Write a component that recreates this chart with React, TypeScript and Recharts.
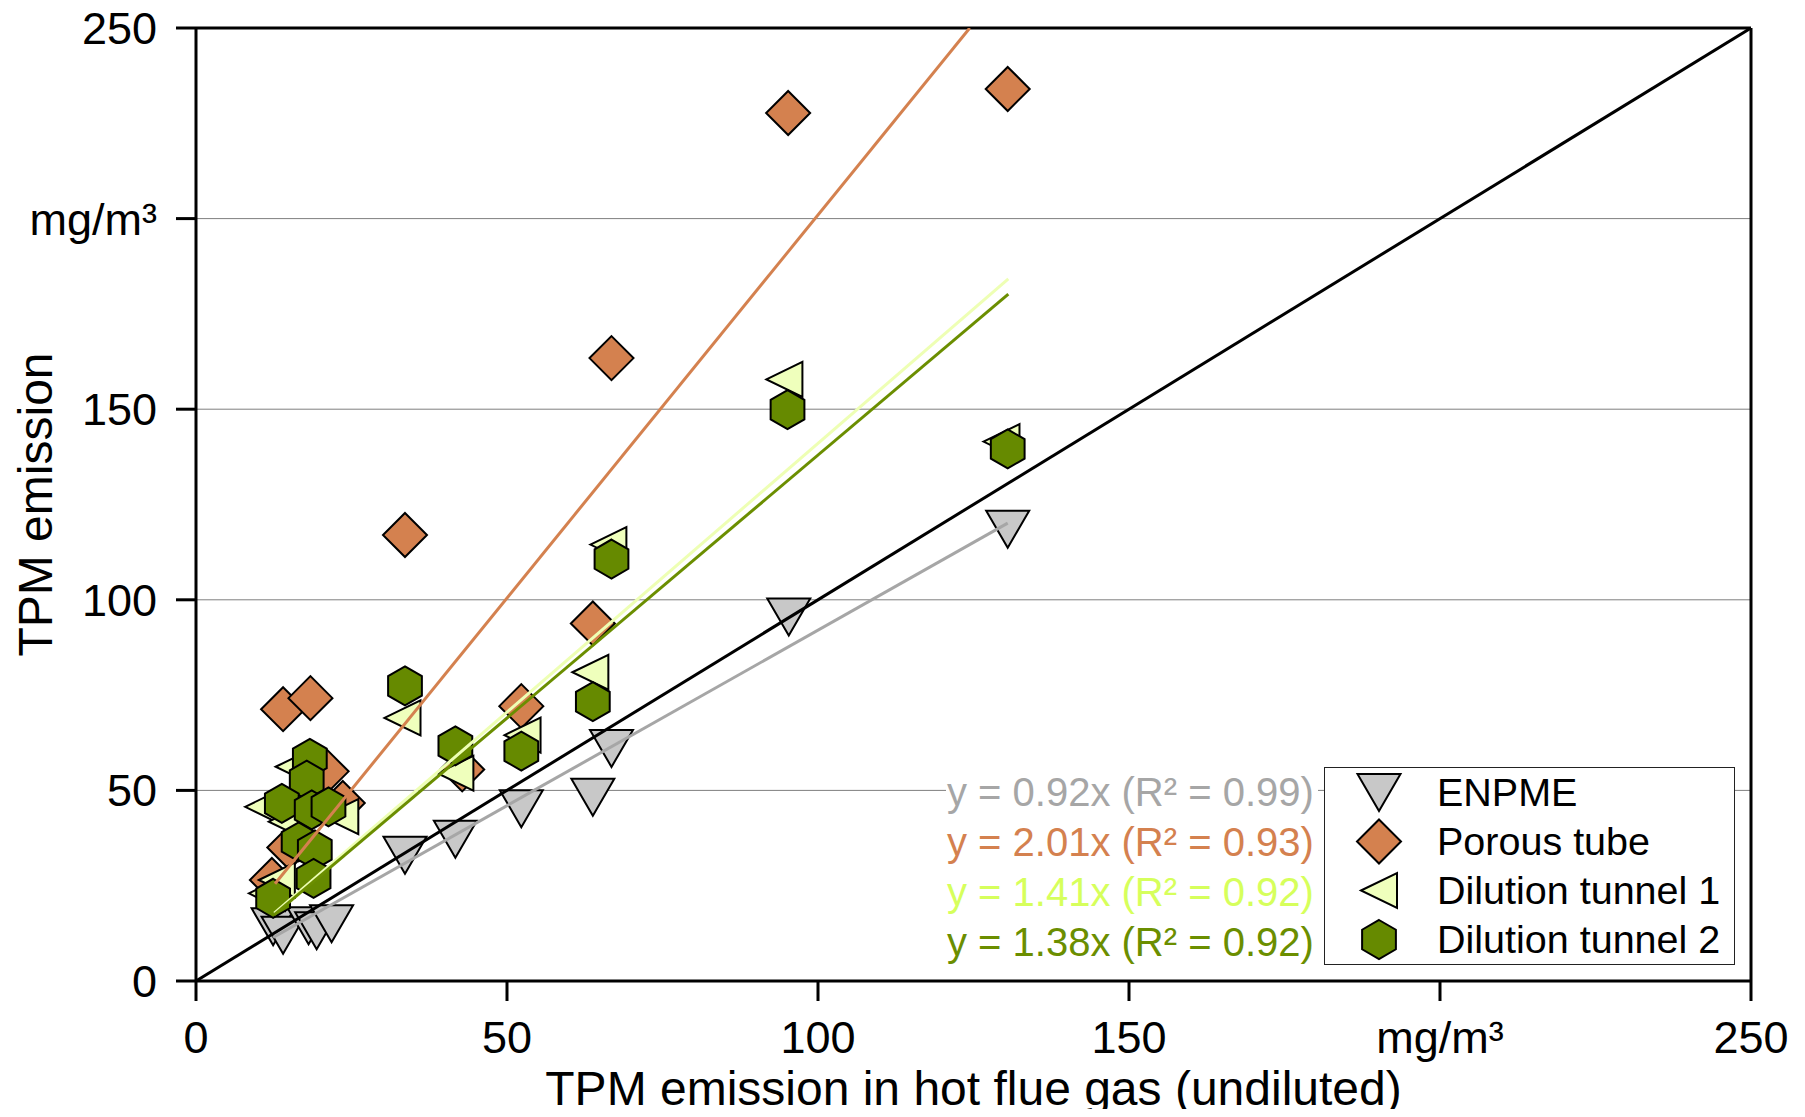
import React from "react";
import { ScatterChart, Scatter, XAxis, YAxis, CartesianGrid, ReferenceLine, Legend } from "recharts";

const FONT = '"Liberation Sans", Arial, Helvetica, sans-serif';

// axis ticks (200 is labelled with the unit, as in the original)
const axisTicks = [0, 50, 100, 150, 200, 250];
const tickText: Record<number, string> = { 0: "0", 50: "50", 100: "100", 150: "150", 200: "mg/m³", 250: "250" };

// TPM in hot flue gas (x) vs. TPM from the sampling method (y), mg/m³
const enpmeHot = [130.5, 95.3, 66.8, 63.8, 52.3, 41.7, 33.6, 12.4, 14.0, 18.1, 19.4, 21.8];
const enpmeDil = [118.5, 95.5, 61.0, 48.2, 45.2, 37.2, 33.0, 14.2, 12.0, 14.5, 13.2, 15.0];

const porousHot = [130.5, 95.2, 66.8, 33.6, 63.8, 52.3, 42.8, 14.0, 18.4, 21.0, 23.6, 12.2, 15.0];
const porousDil = [234.0, 227.7, 163.4, 117.0, 93.8, 72.1, 55.5, 71.3, 74.2, 55.0, 46.7, 26.5, 35.0];

const dt1Hot = [94.6, 129.5, 66.3, 63.4, 33.2, 41.7, 52.5, 11.4, 13.0, 10.8, 14.6, 15.7, 23.2];
const dt1Dil = [157.8, 141.5, 114.5, 81.0, 69.0, 54.5, 64.5, 23.0, 26.5, 45.7, 41.8, 56.2, 43.1];

const dt2Hot = [95.1, 130.5, 66.8, 63.8, 33.6, 41.7, 52.3, 18.3, 17.8, 13.8, 18.6, 21.3, 16.5, 19.1, 18.9, 12.4];
const dt2Dil = [149.9, 139.6, 110.7, 73.3, 77.4, 61.7, 60.3, 58.4, 52.7, 46.6, 44.9, 45.7, 36.5, 34.4, 26.9, 21.7];

// trend line end points (min..max of each series)
const enpmeFitHot = [12.4, 130.5];
const enpmeFitDil = [11.4, 120.1];
const porousFitHot = [12.7, 124.4];
const porousFitDil = [25.5, 250];
const dt1FitHot = [12.6, 130.6];
const dt1FitDil = [17.8, 184.2];
const dt2FitHot = [12.6, 130.6];
const dt2FitDil = [17.4, 180.2];

const identityHot = [0, 250];
const identityDil = [0, 250];

const seriesNames = ["ENPME", "Porous tube", "Dilution tunnel 1", "Dilution tunnel 2"];
const equations = [
  "y = 0.92x (R² = 0.99)",
  "y = 2.01x (R² = 0.93)",
  "y = 1.41x (R² = 0.92)",
  "y = 1.38x (R² = 0.92)",
];

const pts = (xs: number[], ys: number[]) => xs.map((x, i) => ({ x, y: ys[i] }));

const downTri = (cx: number, cy: number) => (
  <polygon
    points={`${cx - 21.5},${cy - 18.5} ${cx + 21.5},${cy - 18.5} ${cx},${cy + 18.5}`}
    fill="#c8c8c8" stroke="#000" strokeWidth={2}
  />
);
const diamond = (cx: number, cy: number) => (
  <polygon
    points={`${cx},${cy - 22} ${cx + 22},${cy} ${cx},${cy + 22} ${cx - 22},${cy}`}
    fill="#d4814f" stroke="#000" strokeWidth={2}
  />
);
const leftTri = (cx: number, cy: number) => (
  <polygon
    points={`${cx - 18},${cy} ${cx + 18},${cy - 17.5} ${cx + 18},${cy + 17.5}`}
    fill="#efffbc" stroke="#000" strokeWidth={2}
  />
);
const hexagon = (cx: number, cy: number) => {
  const r = 19.5;
  const p = [-90, -30, 30, 90, 150, 210]
    .map((a) => `${cx + r * Math.cos((a * Math.PI) / 180)},${cy + r * Math.sin((a * Math.PI) / 180)}`)
    .join(" ");
  return <polygon points={p} fill="#668a00" stroke="#000" strokeWidth={2} />;
};

const markers = [downTri, diamond, leftTri, hexagon];
const lineColors = ["#a6a6a6", "#d4814f", "#eeffb4", "#6b8e00"];
const eqColors = ["#a6a6a6", "#d4814f", "#d6ff5c", "#6b8e00"];

const noDot = () => <g />;

function YTick({ x, y, payload }: any) {
  return (
    <text x={x} y={y} dy={16} textAnchor="end" fontSize={45} fontFamily={FONT} fill="#000">
      {tickText[payload.value]}
    </text>
  );
}

function XTick({ x, y, payload }: any) {
  return (
    <text x={x} y={y} dy={32} textAnchor="middle" fontSize={45} fontFamily={FONT} fill="#000">
      {tickText[payload.value]}
    </text>
  );
}

function LegendBox() {
  return (
    <div style={{ display: "flex", fontFamily: FONT }}>
      <div style={{ width: 372, background: "#fff", paddingLeft: 1, boxSizing: "border-box" }}>
        {equations.map((eq, i) => (
          <div key={eq} style={{ height: 50, lineHeight: "50px", fontSize: 40, color: eqColors[i], whiteSpace: "nowrap" }}>
            {eq}
          </div>
        ))}
      </div>
      <div
        style={{
          marginLeft: 6,
          width: 411,
          height: 198,
          border: "1.5px solid #222",
          boxSizing: "border-box",
          background: "#fff",
        }}
      >
        {seriesNames.map((name, i) => (
          <div key={name} style={{ display: "flex", alignItems: "center", height: 49 }}>
            <svg width={112} height={49} style={{ display: "block" }}>
              {markers[i](54, 24.5)}
            </svg>
            <span style={{ fontSize: 39.5, lineHeight: "49px", color: "#000", whiteSpace: "nowrap" }}>{name}</span>
          </div>
        ))}
      </div>
    </div>
  );
}

export default function App() {
  const series = [pts(enpmeHot, enpmeDil), pts(porousHot, porousDil), pts(dt1Hot, dt1Dil), pts(dt2Hot, dt2Dil)];
  const fits = [
    pts(enpmeFitHot, enpmeFitDil),
    pts(porousFitHot, porousFitDil),
    pts(dt1FitHot, dt1FitDil),
    pts(dt2FitHot, dt2FitDil),
  ];

  return (
    <div style={{ position: "relative", width: 1805, height: 1117, margin: -8, background: "#fff" }}>
      <div style={{ position: "absolute", left: 0, top: 0, width: 1805, height: 2, background: "#14a04a" }} />
      <ScatterChart width={1805} height={1117} margin={{ top: 28, right: 54, bottom: 0, left: 0 }}>
        <CartesianGrid horizontal vertical={false} stroke="#7f7f7f" strokeWidth={1} />
        <XAxis
          type="number"
          dataKey="x"
          domain={[0, 250]}
          ticks={axisTicks}
          allowDataOverflow
          height={136}
          tickSize={20}
          tickMargin={20}
          axisLine={{ stroke: "#000", strokeWidth: 3 }}
          tickLine={{ stroke: "#000", strokeWidth: 3 }}
          tick={<XTick />}
          label={(p: any) => (
            <text
              x={p.viewBox.x + p.viewBox.width / 2}
              y={p.viewBox.y + 124}
              textAnchor="middle"
              fontSize={48}
              fontFamily={FONT}
              fill="#000"
            >
              TPM emission in hot flue gas (undiluted)
            </text>
          )}
        />
        <YAxis
          type="number"
          dataKey="y"
          domain={[0, 250]}
          ticks={axisTicks}
          allowDataOverflow
          width={196}
          tickSize={20}
          tickMargin={19}
          axisLine={{ stroke: "#000", strokeWidth: 3 }}
          tickLine={{ stroke: "#000", strokeWidth: 3 }}
          tick={<YTick />}
          label={(p: any) => {
            const cx = p.viewBox.x + 52;
            const cy = p.viewBox.y + p.viewBox.height / 2;
            return (
              <text
                x={cx}
                y={cy}
                transform={`rotate(-90, ${cx}, ${cy})`}
                textAnchor="middle"
                fontSize={48}
                fontFamily={FONT}
                fill="#000"
              >
                TPM emission
              </text>
            );
          }}
        />
        <ReferenceLine y={250} stroke="#000" strokeWidth={3} />
        <ReferenceLine x={250} stroke="#000" strokeWidth={3} />

        {series.map((d, i) => (
          <Scatter
            key={seriesNames[i]}
            name={seriesNames[i]}
            data={d}
            isAnimationActive={false}
            shape={(p: any) => markers[i](p.cx, p.cy)}
          />
        ))}

        <Scatter
          data={pts(identityHot, identityDil)}
          isAnimationActive={false}
          legendType="none"
          line={{ stroke: "#000", strokeWidth: 3 }}
          shape={noDot}
        />
        {fits.map((d, i) => (
          <Scatter
            key={"fit" + i}
            data={d}
            isAnimationActive={false}
            legendType="none"
            line={{ stroke: lineColors[i], strokeWidth: 3 }}
            shape={noDot}
          />
        ))}

        <Legend
          layout="vertical"
          align="center"
          verticalAlign="middle"
          content={() => <LegendBox />}
          wrapperStyle={{ left: 946, top: 767, width: 790, height: 198 }}
        />
      </ScatterChart>
    </div>
  );
}
